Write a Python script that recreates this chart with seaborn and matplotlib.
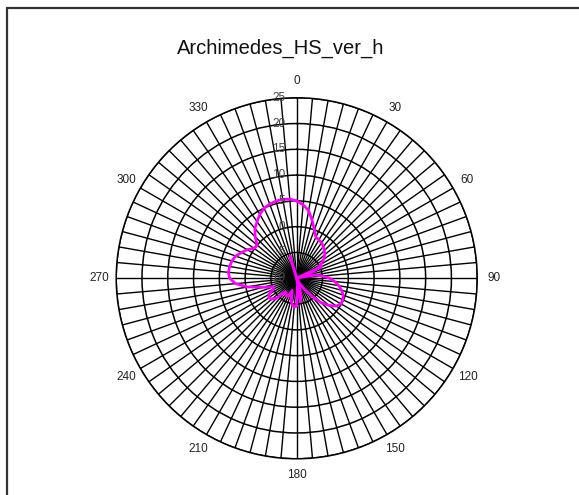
import numpy as np
import pandas as pd
import matplotlib
matplotlib.use("Agg")
import matplotlib.pyplot as plt
from matplotlib.lines import Line2D
import seaborn as sns

title = "Archimedes_HS_ver_h"

# main curve, in drawing order (degrees clockwise from top, value)
angles = [0, 5, 10, 15, 20, 25, 30, 35, 40, 45, 50, 55, 60, 65, 70, 75,
          80, 85, 90, 95, 100, 105, 110, 115, 120, 125, 130, 135, 140, 145, 150, 155,
          160, 165, 170, 175, 180, 185, 190, 195, 200, 205, 210, 215, 220, 225, 230, 235,
          240, 245, 250, 255, 260, 265, 270, 275, 280, 285, 290, 295, 300, 305, 310, 315,
          320, 325, 330, 335, 340, 345, 350, 355, 360]
values = [5.0, 4.3, 3.3, 1.6, 0.0, -1.2, -1.4, -1.6, -2.0, -2.4, -2.9, -3.6, -4.6, -5.5, -7.5, -9.3,
          -6.5, -5.0, -3.6, -2.6, -1.7, -1.0, -0.4, -0.1, -0.1, -0.6, -1.8, -3.3, -5.5, -7.5, -8.8, -9.5,
          -9.0, -7.0, -5.4, -8.5, -4.6, -4.4, -4.8, -5.8, -7.5, -6.2, -6.0, -6.4, -6.6, -4.6, -3.7, -3.4,
          -3.8, -5.0, -5.2, -3.2, -0.3, 1.9, 3.0, 3.3, 3.2, 3.0, 2.6, 1.8, 1.1, 0.1, 0.0, 1.4,
          2.6, 3.4, 4.3, 5.0, 5.3, 5.5, 5.55, 5.4, 5.0]

# thin spikes through the centre
spike_angles = [343, 343, 170, 170, 65, 65]
spike_values = [-5.5, -10.0, -10.0, -5.6, -10.0, -4.7]

radial_ticks = [-10, -5, 0, 5, 10, 15, 20, 25]
angle_labels = [0, 30, 60, 90, 120, 150, 180, 210, 240, 270, 300, 330]
spoke_step = 5

sns.set_theme(style="white")
plt.rcParams["font.family"] = ["Liberation Sans", "DejaVu Sans"]

fig = plt.figure(figsize=(5.79, 4.95), dpi=100)
ax = fig.add_axes([0.2007, 0.0732, 0.6235, 0.7293], projection="polar")
ax.set_theta_zero_location("N")
ax.set_theta_direction(-1)
ax.set_ylim(radial_ticks[0], radial_ticks[-1])

spokes = np.arange(0, 360, spoke_step)
ax.set_xticks(np.deg2rad(spokes))
ax.set_xticklabels([str(a) if a in angle_labels else "" for a in spokes],
                   fontsize=8.5, color="#222222")
ax.tick_params(axis="x", pad=-1)
ax.set_yticks(radial_ticks)
ax.set_yticklabels([])
ax.xaxis.grid(True, color="black", linewidth=1.0)
ax.yaxis.grid(True, color="black", linewidth=1.1)
ax.spines["polar"].set_color("black")
ax.spines["polar"].set_linewidth(1.1)

for v in radial_ticks:
    ax.annotate(str(v), xy=(0, v), xytext=(-8, 0), textcoords="offset points",
                ha="right", va="center", fontsize=8.5, color="#444444")

df = pd.DataFrame({"theta": np.deg2rad(angles), "value": values})
sns.lineplot(data=df, x="theta", y="value", ax=ax, sort=False, estimator=None,
             color="#FF00FF", linewidth=2.0)
sp = pd.DataFrame({"theta": np.deg2rad(spike_angles), "value": spike_values})
for i in range(0, len(sp), 2):
    seg = sp.iloc[i:i + 2]
    sns.lineplot(data=seg, x="theta", y="value", ax=ax, sort=False, estimator=None,
                 color="#FF00FF", linewidth=2.2)
ax.set_xlabel("")
ax.set_ylabel("")

fig.text(0.484, 0.903, title, ha="center", va="center", fontsize=14.5, color="#111111")

fig.add_artist(Line2D([7 / 579, 1.0], [1 - 7.5 / 495, 1 - 7.5 / 495], color="#333333", linewidth=1.6))
fig.add_artist(Line2D([7.5 / 579, 7.5 / 579], [0, 1 - 7.5 / 495], color="#333333", linewidth=1.6))

fig.savefig("out.png", dpi=100)
